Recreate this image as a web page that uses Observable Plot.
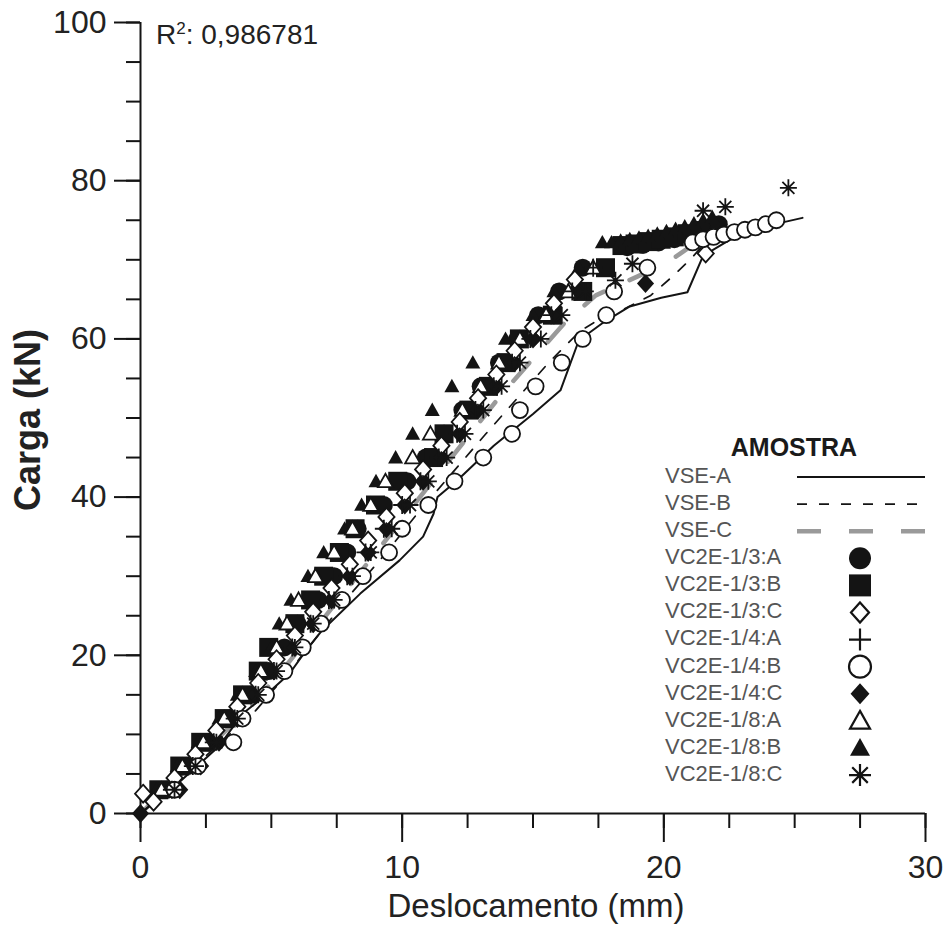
<!DOCTYPE html>
<html><head><meta charset="utf-8">
<script src="https://cdn.jsdelivr.net/npm/d3@7"></script>
<script src="https://cdn.jsdelivr.net/npm/@observablehq/plot@0.6"></script>
<style>
body{margin:0;background:#fff;}
#chart{position:relative;width:950px;height:925px;font-family:"Liberation Sans",Arial,sans-serif;}
</style>
</head><body><div id="chart"></div>
<script>
// ---------- DATA ----------
const xTitle = "Deslocamento (mm)";
const yTitle = "Carga (kN)";
const legendTitle = "AMOSTRA";
const r2Label = "0,986781";
const xTicksMajor = [0, 10, 20, 30];
const yTicksMajor = [0, 20, 40, 60, 80, 100];

// VSE curves (lines)
const vseA_x = [0,1.5,3,3.9,4.8,5.7,6.3,6.9,8.4,9.9,10.8,11.2,11.35,12.1,13.5,15.0,16.05,16.75,17.7,18.7,19.9,20.9,21.5,22.5,23.5,24.5,25.3];
const vseA_y = [0,4,8.5,12.6,15,17.7,20.5,23,27.8,32,35,37.9,40,42.1,46.5,50.5,53.5,59.8,62.1,64.1,65.2,65.9,70.5,72.5,73.8,74.7,75.3];
const vseB_x = [0,1.4,2.9,4.4,5.7,6.9,8.1,9.4,10.6,11.9,13.2,14.4,15.6,16.8,17.7,18.5,19.5,20.3,21.0,21.6];
const vseB_y = [0,4,8.5,13,18,23,28,33,38,43,48,52.5,57,61,62.8,63.8,65.5,67.8,70,72.2];
const vseC_x = [0,1.4,2.8,4.2,5.4,6.6,7.8,9.0,10.2,11.4,12.6,13.8,15.0,16.2,17.4,18.4,19.4,20.2,20.9,21.4];
const vseC_y = [0,4.5,9,13.5,18,23,28,33,38,43,48,53,57.5,62,65.5,67,68.5,69.8,71.4,72.6];

// load steps (kN) shared by the VC2E series
const steps = [3,6,9,12,15,18,21,24,27,30,33,36,39,42,45,48,51,54,57,60,63,66,69];
const halfSteps = [1.5,4.5,7.5,10.5,13.5,16.5,19.5,22.5,25.5,28.5,31.5,34.5,37.5,40.5,43.5,46.5,49.5,52.5,55.5,58.5,61.5,64.5,67.5];

// VC2E-1/3:A (filled circle)
const s13A_x = [1.0,1.8,2.6,3.4,4.2,4.9,5.5,6.0,6.8,7.4,7.9,8.3,9.3,10.2,10.9,11.6,12.3,13.0,13.7,14.4,15.2,16.0,16.9, 18.6,19.2,19.8,20.4,21.0,21.6,22.1];
const s13A_y = [...steps, 71.6,71.9,72.2,72.6,73.1,73.8,74.5];
// VC2E-1/3:B (filled square)
const s13B_x = [0.7,1.5,2.3,3.2,3.9,4.5,4.9,5.9,6.5,7.0,7.6,8.2,8.98,9.83,11.2,11.6,12.55,13.3,13.97,14.48,15.74,16.9,17.77, 18.4,18.9,19.4,19.9,20.4,20.9,21.4];
const s13B_y = [...steps, 71.8,72.0,72.3,72.6,72.9,73.3,73.7];
// VC2E-1/3:C (open diamond)
const s13C_x = [0.1,0.5,1.3,2.1,2.9,3.7,4.5,5.2,5.9,6.6,7.3,8.0,8.7,9.4,10.1,10.8,11.5,12.2,12.9,13.6,14.3,15.0,15.8,16.6, 21.6];
const s13C_y = [2.5,...halfSteps, 70.8];
// VC2E-1/4:A (plus)
const s14A_x = [1.2,2.0,2.8,3.6,4.4,5.1,5.8,6.5,7.2,7.9,8.6,9.3,10.0,10.7,11.4,12.1,12.8,13.5,14.2,14.9,15.7,16.5,17.3];
const s14A_y = [...steps];
// VC2E-1/4:B (open circle)
const s14B_x = [1.3,2.2,3.55,3.9,4.8,5.5,6.2,6.9,7.7,8.5,9.5,10.0,11.0,12.0,13.1,14.2,14.5,15.1,16.1,16.9,17.8,18.1,19.37, 21.1,21.5,21.9,22.3,22.7,23.1,23.5,23.9,24.3];
const s14B_y = [...steps, 72.2,72.6,72.9,73.2,73.5,73.8,74.1,74.5,75.0];
// VC2E-1/4:C (filled diamond)
const s14C_x = [0,1.5,2.3,3.0,3.7,4.4,5.1,5.9,6.6,7.3,8.0,8.7,9.4,10.1,10.8,11.5,12.2,12.9,13.6,14.3,15.0,15.8,16.6,19.3];
const s14C_y = [0,3,6,9,12,15,18,21,24,27,30,33,36,39,42,45,48,51,54,57,60,63,66,67];
// VC2E-1/8:A (open triangle)
const s18A_x = [0.8,1.6,2.4,3.2,3.9,4.6,5.2,5.6,6.04,6.69,7.4,8.1,8.8,9.36,10.4,11.08,12.3,13.0,13.7,14.5,15.5,16.35,17.3];
const s18A_y = [...steps];
// VC2E-1/8:B (filled triangle)
const s18B_x = [0.6,1.4,2.2,3.0,3.7,4.4,5.0,5.3,5.75,6.4,7.0,7.8,8.45,9.0,9.75,10.4,11.15,11.9,12.7,13.95,15.0,15.8,16.75, 17.65,18.0,18.35,18.7,19.05,19.4,19.75,20.1,20.45,20.8,21.15,21.5,21.85];
const s18B_y = [...steps, 72.2,72.2,72.4,72.6,72.8,73.0,73.3,73.6,73.9,74.2,74.6,75.0,75.4];
// VC2E-1/8:C (asterisk)
const s18C_x = [1.3,2.1,2.9,3.7,4.5,5.2,5.9,6.6,7.4,8.1,8.8,9.6,10.3,11.0,11.7,12.4,13.1,13.8,14.5,15.3,16.1,17.0,18.15, 18.8,21.5,22.35,24.76];
const s18C_y = [...steps.slice(0,22), 67.4, 69.5,76.2,76.7,79.1];

// ---------- BUILD ----------
const toRows = (xs, ys) => xs.map((x, i) => ({x, y: ys[i]}));

function sym(fn){ return {draw(ctx, size){ const r = Math.sqrt(size/Math.PI); fn(ctx, r); }}; }
const SYM = {
  circle: sym((c,r)=>{ c.moveTo(r,0); c.arc(0,0,r,0,2*Math.PI); c.closePath(); }),
  square: sym((c,r)=>{ c.rect(-r,-r,2*r,2*r); }),
  diamond: sym((c,r)=>{ c.moveTo(0,-r); c.lineTo(r*0.9,0); c.lineTo(0,r); c.lineTo(-r*0.9,0); c.closePath(); }),
  plus: sym((c,r)=>{ c.moveTo(-r,0); c.lineTo(r,0); c.moveTo(0,-r); c.lineTo(0,r); }),
  triangle: sym((c,r)=>{ c.moveTo(0,-r); c.lineTo(r,r*0.78); c.lineTo(-r,r*0.78); c.closePath(); }),
  asterisk: sym((c,r)=>{ const d=r*0.7071; c.moveTo(-r,0); c.lineTo(r,0); c.moveTo(0,-r); c.lineTo(0,r); c.moveTo(-d,-d); c.lineTo(d,d); c.moveTo(-d,d); c.lineTo(d,-d); })
};
const INK = "#141414";
const FONT = '"Liberation Sans", Arial, sans-serif';

const lineSeries = [
  {name:"VSE-A", data: toRows(vseA_x, vseA_y), stroke: INK, width: 2, dash: null},
  {name:"VSE-B", data: toRows(vseB_x, vseB_y), stroke: INK, width: 1.7, dash: "10,12"},
  {name:"VSE-C", data: toRows(vseC_x, vseC_y), stroke: "#9a9a9a", width: 4.5, dash: "24,28"}
];
const dotSeries = [
  {name:"VC2E-1/3:A", data: toRows(s13A_x, s13A_y), sym:"circle",   fill: INK,    stroke:"none", r: 9,   lr: 11},
  {name:"VC2E-1/3:B", data: toRows(s13B_x, s13B_y), sym:"square",   fill: INK,    stroke:"none", r: 9.5, lr: 11},
  {name:"VC2E-1/3:C", data: toRows(s13C_x, s13C_y), sym:"diamond",  fill:"white", stroke: INK,   r: 9,   lr: 10},
  {name:"VC2E-1/4:A", data: toRows(s14A_x, s14A_y), sym:"plus",     fill:"none",  stroke: INK,   r: 9,   lr: 11},
  {name:"VC2E-1/4:B", data: toRows(s14B_x, s14B_y), sym:"circle",   fill:"white", stroke: INK,   r: 8,   lr: 11},
  {name:"VC2E-1/4:C", data: toRows(s14C_x, s14C_y), sym:"diamond",  fill: INK,    stroke:"none", r: 9.5, lr: 10.5},
  {name:"VC2E-1/8:A", data: toRows(s18A_x, s18A_y), sym:"triangle", fill:"white", stroke: INK,   r: 7.5, lr: 10},
  {name:"VC2E-1/8:B", data: toRows(s18B_x, s18B_y), sym:"triangle", fill: INK,    stroke:"none", r: 7.5, lr: 10},
  {name:"VC2E-1/8:C", data: toRows(s18C_x, s18C_y), sym:"asterisk", fill:"none",  stroke: INK,   r: 8.5, lr: 11}
];
const drawOrder = ["VC2E-1/3:A","VC2E-1/3:B","VC2E-1/8:B","VC2E-1/4:C","VC2E-1/8:A","VC2E-1/3:C","VC2E-1/4:A","VC2E-1/4:B","VC2E-1/8:C"];

const blank = () => "";
const marks = [];
// minor + major ticks
marks.push(Plot.axisX({ticks: d3.range(0, 30.01, 2.5), tickSize: 15, tickFormat: blank, stroke: INK, strokeWidth: 2, label: null}));
marks.push(Plot.axisX({ticks: xTicksMajor, tickSize: 29, tickPadding: 13, fontSize: 32, stroke: INK, strokeWidth: 2, fill: "#222", label: null}));
marks.push(Plot.axisY({ticks: d3.range(0, 100.01, 5), tickSize: 14, tickFormat: blank, stroke: INK, strokeWidth: 2, label: null}));
marks.push(Plot.axisY({ticks: yTicksMajor, tickSize: 26, tickPadding: 8, fontSize: 32, stroke: INK, strokeWidth: 2, fill: "#222", label: null}));
marks.push(Plot.ruleY([0], {stroke: INK, strokeWidth: 2}));
marks.push(Plot.ruleX([0], {y1: 0, y2: 100, stroke: INK, strokeWidth: 2}));

// lines beneath the markers
for (const s of [lineSeries[2], lineSeries[1], lineSeries[0]]) {
  marks.push(Plot.line(s.data, {x: "x", y: "y", stroke: s.stroke, strokeWidth: s.width, strokeDasharray: s.dash || undefined}));
}
for (const nm of drawOrder) {
  const s = dotSeries.find(d => d.name === nm);
  marks.push(Plot.dot(s.data, {x: "x", y: "y", symbol: SYM[s.sym], r: s.r, fill: s.fill, stroke: s.stroke, strokeWidth: 1.8}));
}

const chart = Plot.plot({
  width: 950, height: 925,
  marginLeft: 140, marginRight: 25, marginTop: 22, marginBottom: 112,
  x: {domain: [0, 30]},
  y: {domain: [0, 100]},
  style: {fontFamily: FONT, background: "white", color: INK},
  marks
});
document.getElementById("chart").appendChild(chart);

// ---------- overlay texts and legend ----------
const svg = d3.select(chart);
// axis titles
svg.append("text").attr("x", 536).attr("y", 917).attr("text-anchor", "middle")
  .attr("font-size", 33).attr("fill", "#222").text(xTitle);
svg.append("text").attr("transform", "translate(40,420) rotate(-90)")
  .attr("text-anchor", "middle").attr("font-size", 36).attr("font-weight", "bold")
  .attr("fill", "#222").text(yTitle);
// R²
const r2 = svg.append("text").attr("x", 156).attr("y", 44).attr("text-anchor", "start").attr("font-size", 28).attr("fill", "#222");
r2.append("tspan").text("R");
r2.append("tspan").attr("font-size", 17).attr("dy", -10).text("2");
r2.append("tspan").attr("dy", 10).text(": " + r2Label);

// legend
const lg = svg.append("g");
lg.append("text").attr("x", 794).attr("y", 449).attr("text-anchor", "middle").attr("dominant-baseline", "middle")
  .attr("font-size", 25).attr("font-weight", "bold").attr("fill", "#1a1a1a").text(legendTitle);
const rowY = i => 477 + i * 27.1;
const allEntries = [...lineSeries, ...dotSeries];
allEntries.forEach((s, i) => {
  const y = rowY(i);
  lg.append("text").attr("x", 665).attr("y", y).attr("text-anchor", "start").attr("dominant-baseline", "middle")
    .attr("font-size", 22).attr("fill", "#555").text(s.name);
  if (s.width) {
    lg.append("line").attr("x1", 797).attr("x2", 925).attr("y1", y).attr("y2", y)
      .attr("stroke", s.stroke).attr("stroke-width", s.width)
      .attr("stroke-dasharray", s.dash || null);
  } else {
    lg.append("path").attr("transform", `translate(860,${y})`)
      .attr("d", d3.symbol(SYM[s.sym], Math.PI * s.lr * s.lr)())
      .attr("fill", s.fill).attr("stroke", s.stroke).attr("stroke-width", 2.2);
  }
});
</script>
</body></html>
